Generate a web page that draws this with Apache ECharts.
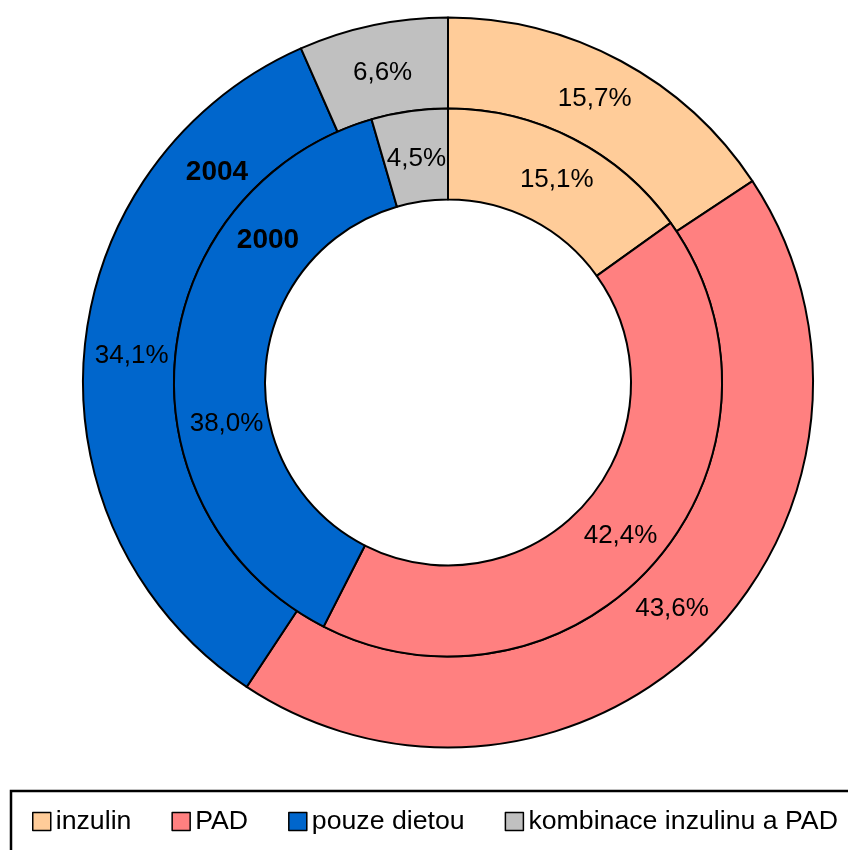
<!DOCTYPE html>
<html>
<head>
<meta charset="utf-8">
<script src="https://cdn.jsdelivr.net/npm/echarts@6/dist/echarts.min.js"></script>
<style>
  html, body { margin: 0; padding: 0; background: #fff; }
  #chart { width: 848px; height: 850px; }
</style>
</head>
<body>
<div id="chart"></div>
<script>
// kategorie a hodnoty (%)
var categories = ['inzulin', 'PAD', 'pouze dietou', 'kombinace inzulinu a PAD'];
var colors = ['#FFCC99', '#FF8080', '#0066CC', '#C0C0C0'];
var values2004 = [15.7, 43.6, 34.1, 6.6];
var values2000 = [15.1, 42.4, 38.0, 4.5];
var ringNames = ['2004', '2000'];

// posun popisku oproti stredu vysece (jako v Excelu)
var nudge2004 = [[-6, 0], [-4, -2], [5, 1], [1, 6]];
var nudge2000 = [[3, 3], [-3, 2], [9, 63], [1, 6]];

var font = 'Liberation Sans, Arial, sans-serif';

function toData(vals, nudge) {
    return vals.map(function (v, i) {
        return {
            value: v,
            name: categories[i],
            itemStyle: {color: colors[i]},
            label: {offset: nudge[i]}
        };
    });
}

function fmt(p) {
    return p.value.toFixed(1).replace('.', ',') + '%';
}

var ringCommon = {
    type: 'pie',
    center: [448, 382.5],
    startAngle: 90,
    clockwise: true,
    avoidLabelOverlap: false,
    silent: true,
    itemStyle: {borderColor: '#000', borderWidth: 2},
    label: {
        show: true,
        position: 'inside',
        formatter: fmt,
        color: '#000',
        fontSize: 26,
        fontFamily: font
    },
    labelLine: {show: false},
    emphasis: {disabled: true}
};

var chart = echarts.init(document.getElementById('chart'));
var option = {
    animation: false,
    backgroundColor: '#fff',
    legend: {
        data: categories,
        left: 32,
        top: 808,
        padding: 0,
        icon: 'rect',
        itemWidth: 18,
        itemHeight: 18,
        itemGap: 40,
        itemStyle: {borderColor: '#000', borderWidth: 1.5},
        textStyle: {color: '#000', fontSize: 26.7, fontFamily: font},
        selectedMode: false
    },
    graphic: [
        {
            type: 'rect',
            z: 100,
            shape: {x: 11, y: 791, width: 900, height: 100},
            style: {fill: 'none', stroke: '#000', lineWidth: 2.5},
            silent: true
        },
        {
            type: 'text',
            z: 100,
            x: 217, y: 172,
            style: {text: ringNames[0], font: 'bold 28px ' + font, fill: '#000', align: 'center', verticalAlign: 'middle'}
        },
        {
            type: 'text',
            z: 100,
            x: 268, y: 240,
            style: {text: ringNames[1], font: 'bold 28px ' + font, fill: '#000', align: 'center', verticalAlign: 'middle'}
        }
    ],
    series: [
        Object.assign({}, ringCommon, {
            name: ringNames[0],
            radius: [274, 365],
            data: toData(values2004, nudge2004)
        }),
        Object.assign({}, ringCommon, {
            name: ringNames[1],
            radius: [183, 274],
            data: toData(values2000, nudge2000)
        })
    ]
};
chart.setOption(option);
</script>
</body>
</html>
